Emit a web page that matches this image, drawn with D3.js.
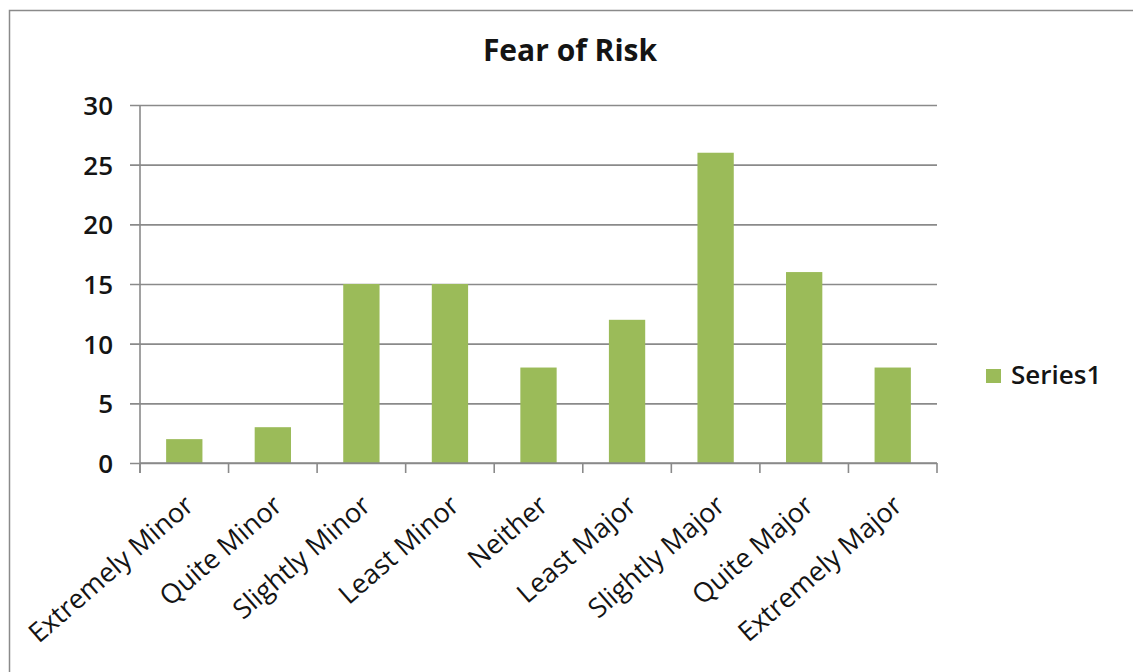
<!DOCTYPE html>
<html>
<head>
<meta charset="utf-8">
<script src="https://cdn.jsdelivr.net/npm/d3@7"></script>
<style>
  html, body { margin: 0; padding: 0; background: #fff; }
  svg { display: block; }
  text { font-family: "Open Sans", Lato, sans-serif; fill: #141414; }
</style>
</head>
<body>
<svg id="chart" width="1133" height="672"></svg>
<script>
// Survey responses: how large a risk is feared
const categories = ["Extremely Minor", "Quite Minor", "Slightly Minor", "Least Minor",
                    "Neither", "Least Major", "Slightly Major", "Quite Major", "Extremely Major"];
const series1 = [2, 3, 15, 15, 8, 12, 26, 16, 8];
const yTicks = [0, 5, 10, 15, 20, 25, 30];
const seriesName = "Series1";
const chartTitle = "Fear of Risk";

const svg = d3.select("#chart");
const W = 1133, H = 672;
const plot = { left: 140, right: 937, top: 105, bottom: 463 };
const gridColor = "#8a8a8a";
const barColor = "#9bbb59";
const font = "'Open Sans', Lato, sans-serif";

svg.append("rect").attr("width", W).attr("height", H).attr("fill", "#fff");

// outer chart frame
svg.append("rect")
  .attr("x", 9.5).attr("y", 10.5)
  .attr("width", W + 20).attr("height", H + 20)
  .attr("fill", "none").attr("stroke", "#8a8a8a").attr("stroke-width", 1.5);

const x = d3.scaleBand()
  .domain(categories)
  .range([plot.left, plot.right])
  .paddingInner(0.59)
  .paddingOuter(0.295);

const y = d3.scaleLinear().domain([0, 30]).range([plot.bottom, plot.top]);

// horizontal gridlines with short outside ticks
const yAxis = d3.axisLeft(y)
  .tickValues(yTicks)
  .tickSize(-(plot.right - plot.left))
  .tickFormat(d3.format("d"))
  .tickPadding(27);

const gy = svg.append("g")
  .attr("transform", `translate(${plot.left},0)`)
  .call(yAxis);
gy.select(".domain").remove();
gy.selectAll(".tick line")
  .attr("x1", -10)
  .attr("stroke", gridColor).attr("stroke-width", 1.6);
gy.selectAll(".tick text")
  .attr("font-size", 26).attr("font-family", font).attr("font-weight", 600)
  .attr("fill", "#141414").attr("dy", "0.36em");

// vertical axis line
svg.append("line")
  .attr("x1", plot.left).attr("x2", plot.left)
  .attr("y1", plot.top).attr("y2", plot.bottom + 10)
  .attr("stroke", gridColor).attr("stroke-width", 1.6);

// bars
svg.append("g").selectAll("rect")
  .data(series1)
  .join("rect")
  .attr("x", (d, i) => x(categories[i]))
  .attr("width", x.bandwidth())
  .attr("y", d => y(d))
  .attr("height", d => y(0) - y(d))
  .attr("fill", barColor);

// category axis with ticks at band boundaries
svg.append("line")
  .attr("x1", plot.left).attr("x2", plot.right)
  .attr("y1", plot.bottom).attr("y2", plot.bottom)
  .attr("stroke", gridColor).attr("stroke-width", 1.6);

const step = x.step();
const edges = d3.range(categories.length + 1).map(i => plot.left + i * step);
svg.append("g").selectAll("line")
  .data(edges)
  .join("line")
  .attr("x1", d => d).attr("x2", d => d)
  .attr("y1", plot.bottom).attr("y2", plot.bottom + 10)
  .attr("stroke", gridColor).attr("stroke-width", 1.6);

// rotated category labels
svg.append("g").selectAll("text")
  .data(categories)
  .join("text")
  .attr("text-anchor", "end")
  .attr("font-size", 27)
  .attr("transform", d => `translate(${x(d) + x.bandwidth() / 2 + 11},${plot.bottom + 45}) rotate(-41)`)
  .text(d => d);

// title
svg.append("text")
  .attr("x", 570).attr("y", 61)
  .attr("text-anchor", "middle")
  .attr("font-size", 30).attr("font-weight", "bold")
  .text(chartTitle);

// legend
const lg = svg.append("g").attr("transform", "translate(986,369)");
lg.append("rect").attr("width", 15).attr("height", 14).attr("fill", barColor);
lg.append("text").attr("x", 25).attr("y", 15).attr("font-size", 26).attr("font-weight", 600).text(seriesName);
</script>
</body>
</html>
